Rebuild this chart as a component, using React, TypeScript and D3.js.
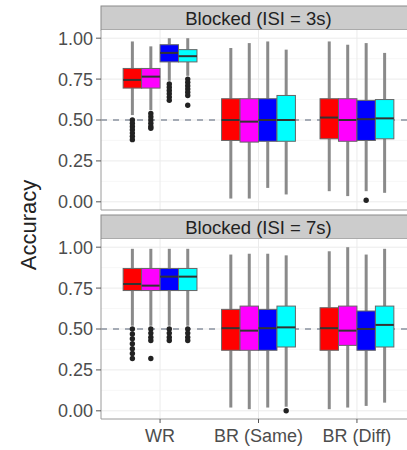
import * as d3 from 'd3';

const categories = ['WR', 'BR (Same)', 'BR (Diff)'];
const groups = ['a', 'b', 'c', 'd'];
const groupColors = ['#FF0000', '#FF00FF', '#0000FF', '#00FFFF'];
const panelTitles = ['Blocked (ISI = 3s)', 'Blocked (ISI = 7s)'];
const yTicks = [0, 0.25, 0.5, 0.75, 1];
const yMinor = [0.125, 0.375, 0.625, 0.875];
const refLine = 0.5;

// [lower whisker, q1, median, q3, upper whisker] per category, per group
const isi3Stats = [
  [[0.53, 0.695, 0.745, 0.815, 0.98], [0.56, 0.695, 0.765, 0.815, 0.95], [0.74, 0.855, 0.91, 0.96, 1.0], [0.77, 0.855, 0.89, 0.93, 1.0]],
  [[0.02, 0.375, 0.5, 0.63, 0.94], [0.02, 0.365, 0.49, 0.63, 0.97], [0.085, 0.37, 0.5, 0.63, 0.98], [0.045, 0.37, 0.5, 0.65, 0.93]],
  [[0.065, 0.385, 0.515, 0.63, 0.98], [0.035, 0.37, 0.5, 0.63, 0.96], [0.065, 0.375, 0.505, 0.62, 0.97], [0.055, 0.385, 0.51, 0.625, 0.91]],
];
const isi7Stats = [
  [[0.52, 0.735, 0.775, 0.87, 0.99], [0.52, 0.735, 0.765, 0.87, 0.99], [0.52, 0.735, 0.82, 0.87, 0.99], [0.52, 0.735, 0.82, 0.87, 0.99]],
  [[0.02, 0.37, 0.505, 0.62, 0.955], [0.01, 0.37, 0.49, 0.64, 0.96], [0.02, 0.37, 0.505, 0.62, 0.96], [0.025, 0.39, 0.51, 0.64, 0.95]],
  [[0.01, 0.37, 0.505, 0.63, 0.975], [0.02, 0.4, 0.49, 0.64, 1.0], [0.03, 0.37, 0.5, 0.61, 0.955], [0.05, 0.39, 0.525, 0.64, 0.99]],
];
const isi3Outliers = [
  [[0.5, 0.48, 0.46, 0.44, 0.42, 0.4, 0.38], [0.54, 0.52, 0.5, 0.48, 0.46, 0.45], [0.72, 0.7, 0.68, 0.66, 0.64, 0.62], [0.75, 0.73, 0.71, 0.69, 0.67, 0.65, 0.59]],
  [[], [], [], []],
  [[], [], [0.01], []],
];
const isi7Outliers = [
  [[0.5, 0.47, 0.44, 0.41, 0.38, 0.35, 0.32], [0.5, 0.475, 0.45, 0.43, 0.32], [0.5, 0.475, 0.45, 0.43], [0.5, 0.475, 0.45, 0.43]],
  [[], [], [], [0.0]],
  [[], [], [], []],
];

const W = 407;
const H = 450;
const left = 101;
const right = 416;
const panelH = 180;
const stripH = 24;
const panelTops = [30, 239];
const font = 'Liberation Sans, Arial, sans-serif';

const x = d3.scalePoint<string>().domain(categories).range([left, right]).padding(0.6);
const dodge = d3.scaleBand<string>().domain(groups)
  .range([-0.375 * x.step(), 0.375 * x.step()]);

function Panel({ idx, stats, outliers }: { idx: number; stats: number[][][]; outliers: number[][][] }) {
  const top = panelTops[idx];
  const y = d3.scaleLinear().domain([-0.05, 1.05]).range([top + panelH, top]);
  const bw = dodge.bandwidth();
  return (
    <g>
      <rect x={left} y={top - stripH} width={right - left} height={stripH} fill="#CCCCCC" stroke="#8a8a8a" strokeWidth={1} />
      <text x={(left + right) / 2} y={top - stripH / 2} dy="0.36em" textAnchor="middle" fontSize={18.5} fill="#222" fontFamily={font}>
        {panelTitles[idx]}
      </text>
      <rect x={left} y={top} width={right - left} height={panelH} fill="#fff" />
      {yMinor.map(t => (
        <line key={'m' + t} x1={left} x2={right} y1={y(t)} y2={y(t)} stroke="#F2F2F2" strokeWidth={0.6} />
      ))}
      {yTicks.map(t => (
        <line key={'g' + t} x1={left} x2={right} y1={y(t)} y2={y(t)} stroke="#EBEBEB" strokeWidth={1} />
      ))}
      {categories.map(c => (
        <line key={'v' + c} x1={x(c)} x2={x(c)} y1={top} y2={top + panelH} stroke="#EBEBEB" strokeWidth={1} />
      ))}
      <line x1={left} x2={right} y1={y(refLine)} y2={y(refLine)} stroke="#8a93a0" strokeWidth={1.5} strokeDasharray="6,6" />
      {categories.map((c, ci) => groups.map((g, gi) => {
        const [lo, q1, med, q3, hi] = stats[ci][gi];
        const x0 = (x(c) as number) + (dodge(g) as number);
        const cx = x0 + bw / 2;
        return (
          <g key={c + g}>
            <line x1={cx} x2={cx} y1={y(hi)} y2={y(q3)} stroke="#8a8a8a" strokeWidth={3} />
            <line x1={cx} x2={cx} y1={y(q1)} y2={y(lo)} stroke="#8a8a8a" strokeWidth={3} />
            <rect x={x0} y={y(q3)} width={bw} height={y(q1) - y(q3)} fill={groupColors[gi]} stroke="#666" strokeWidth={1} />
            <line x1={x0} x2={x0 + bw} y1={y(med)} y2={y(med)} stroke="#333" strokeWidth={2} />
            {outliers[ci][gi].map((v, k) => (
              <circle key={k} cx={cx} cy={y(v)} r={2.7} fill="#222" />
            ))}
          </g>
        );
      }))}
      <line x1={left} x2={left} y1={top} y2={top + panelH} stroke="#9a9a9a" strokeWidth={1} />
      <line x1={left} x2={right} y1={top + panelH} y2={top + panelH} stroke="#9a9a9a" strokeWidth={1} />
      {yTicks.map(t => (
        <g key={'t' + t}>
          <line x1={left - 5} x2={left} y1={y(t)} y2={y(t)} stroke="#555" strokeWidth={1} />
          <text x={left - 8} y={y(t)} dy="0.36em" textAnchor="end" fontSize={18} fill="#4d4d4d" fontFamily={font}>
            {d3.format('.2f')(t)}
          </text>
        </g>
      ))}
    </g>
  );
}

export default function App() {
  const bottom = panelTops[1] + panelH;
  return (
    <svg width={W} height={H} style={{ position: 'absolute', left: 0, top: 0, background: '#fff' }}>
      <Panel idx={0} stats={isi3Stats} outliers={isi3Outliers} />
      <Panel idx={1} stats={isi7Stats} outliers={isi7Outliers} />
      {categories.map(c => (
        <g key={c}>
          <line x1={x(c)} x2={x(c)} y1={bottom} y2={bottom + 4} stroke="#555" strokeWidth={1} />
          <text x={x(c)} y={bottom + 17} dy="0.36em" textAnchor="middle" fontSize={18} fill="#4d4d4d" fontFamily={font}>
            {c}
          </text>
        </g>
      ))}
      <text transform={`translate(36,225) rotate(-90)`} textAnchor="middle" fontSize={22} fill="#222" fontFamily={font}>
        Accuracy
      </text>
    </svg>
  );
}
